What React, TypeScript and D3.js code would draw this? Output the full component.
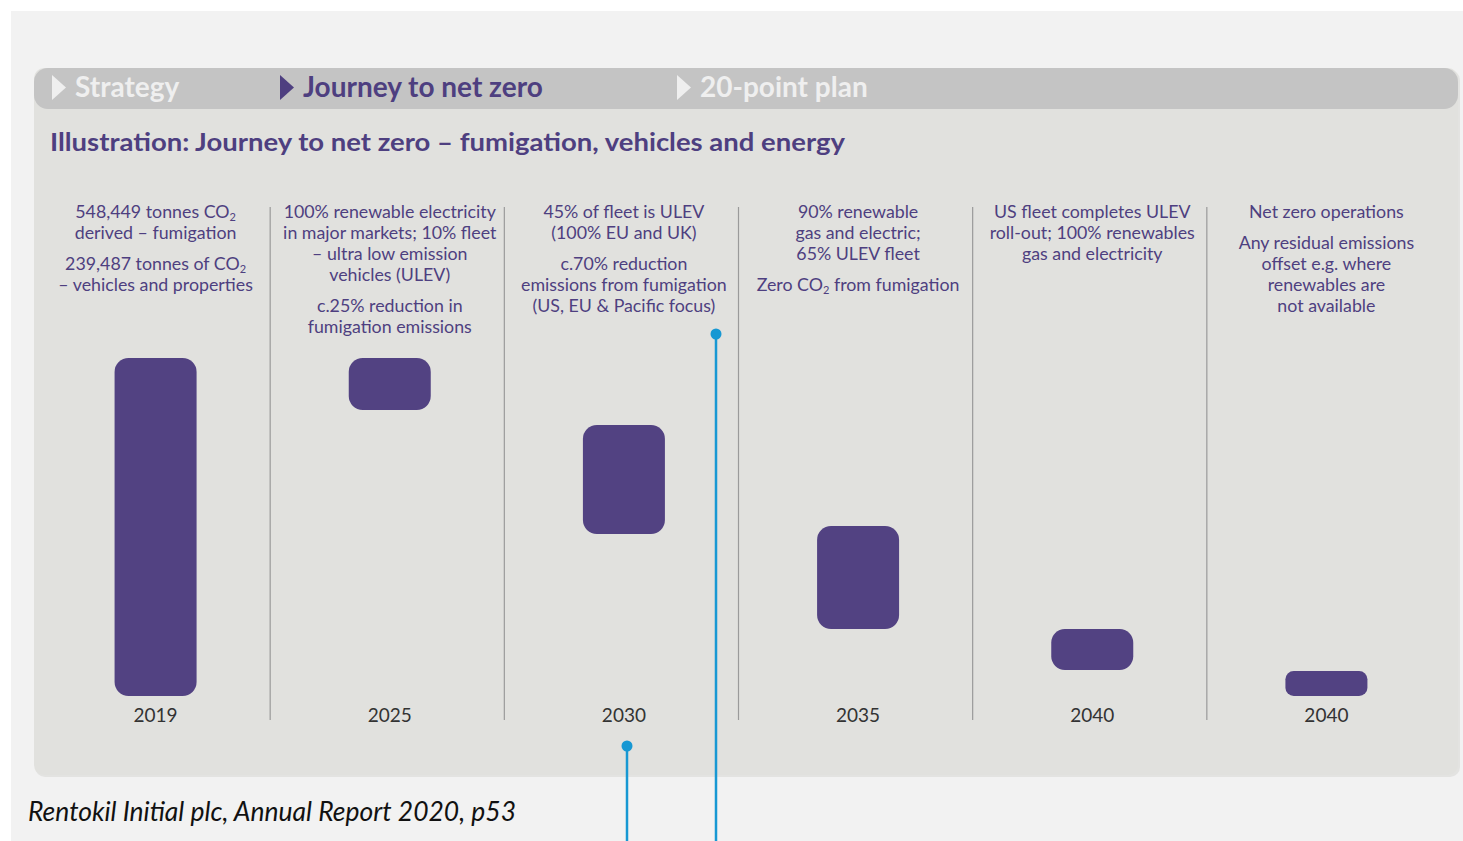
import React from "react";
import * as d3 from "d3";

const W = 1463;
const H = 841;

const navItems = ["Strategy", "Journey to net zero", "20-point plan"];
const navActive = [false, true, false];
const title = "Illustration: Journey to net zero – fumigation, vehicles and energy";

const years = ["2019", "2025", "2030", "2035", "2040", "2040"];
// emissions index (2019 = 100): each milestone is a floating bar from low to high
const barLow = [0, 84.6, 47.9, 19.8, 7.7, 0];
const barHigh = [100, 100, 80.2, 50.3, 19.8, 7.4];

// paragraphs per column; "₂" marks a subscript 2
const notes: string[][][] = [
  [["548,449 tonnes CO₂", "derived – fumigation"], ["239,487 tonnes of CO₂", "– vehicles and properties"]],
  [["100% renewable electricity", "in major markets; 10% fleet", "– ultra low emission", "vehicles (ULEV)"], ["c.25% reduction in", "fumigation emissions"]],
  [["45% of fleet is ULEV", "(100% EU and UK)"], ["c.70% reduction", "emissions from fumigation", "(US, EU & Pacific focus)"]],
  [["90% renewable", "gas and electric;", "65% ULEV fleet"], ["Zero CO₂ from fumigation"]],
  [["US fleet completes ULEV", "roll-out; 100% renewables", "gas and electricity"]],
  [["Net zero operations"], ["Any residual emissions", "offset e.g. where", "renewables are", "not available"]],
];

const caption = "Rentokil Initial plc, Annual Report 2020, p53";

const PURPLE = "#4e3f80";
const BAR = "#524282";
const BLUE = "#1798d3";
const FONT = "Lato, 'Open Sans', sans-serif";

function Line({ s, x, y }: { s: string; x: number; y: number }) {
  const parts = s.split("₂");
  const nodes: React.ReactNode[] = [];
  parts.forEach((p, i) => {
    nodes.push(
      <tspan key={`t${i}`} dy={i > 0 ? -3 : 0}>
        {p}
      </tspan>
    );
    if (i < parts.length - 1) {
      nodes.push(
        <tspan key={`s${i}`} fontSize={11} dy={3}>
          2
        </tspan>
      );
    }
  });
  return (
    <text x={x} y={y} textAnchor="middle" fontFamily={FONT} fontSize={17.8} fill={PURPLE}>
      {nodes}
    </text>
  );
}

export default function App() {
  const x = d3.scaleBand<number>().domain(d3.range(years.length)).range([36, 1441]).paddingInner(0).paddingOuter(0);
  const y = d3.scaleLinear().domain([0, 100]).range([696, 358]);
  const barW = 82;
  const lineH = 21;
  const paraGap = 10;
  const textTop = 218;
  const shift = 2.5;
  const cxOf = (i: number) => x(i)! + x.bandwidth() / 2 + shift;

  const navX = [52, 280, 677];

  return (
    <svg width={W} height={H} style={{ position: "absolute", left: 0, top: 0, display: "block" }}>
      <rect x={0} y={0} width={W} height={H} fill="#ffffff" />
      <rect x={11} y={11} width={W - 11} height={H - 11} fill="#f2f2f2" />
      {/* panel */}
      <rect x={35} y={70} width={1425} height={707} rx={10} fill="#d9d9d6" opacity={0.6} />
      <rect x={34} y={68} width={1424} height={707} rx={10} fill="#e1e1de" />
      {/* nav bar */}
      <rect x={34} y={68} width={1424} height={41} rx={14} fill="#c4c4c4" />
      {navItems.map((t, i) => {
        const c = navActive[i] ? PURPLE : "#efefef";
        const tx = navX[i];
        return (
          <g key={i}>
            <path d={`M${tx},${75} L${tx + 14},${87.5} L${tx},${100} Z`} fill={c} />
            <text x={tx + 23} y={97} fontFamily={FONT} fontWeight={700} fontSize={28} fill={c}>
              {t}
            </text>
          </g>
        );
      })}
      <text x={50} y={151} fontFamily={FONT} fontWeight={700} fontSize={25} fill={PURPLE} textLength={795} lengthAdjust="spacingAndGlyphs">
        {title}
      </text>

      {/* dividers */}
      {d3.range(1, years.length).map((i) => (
        <line key={i} x1={x(i)!} x2={x(i)!} y1={207} y2={720} stroke="#9a9a9a" strokeWidth={1.2} />
      ))}

      {/* notes */}
      {notes.map((paras, ci) => {
        const cx = cxOf(ci);
        let yy = textTop;
        const out: React.ReactNode[] = [];
        paras.forEach((p, pi) => {
          if (pi > 0) yy += paraGap;
          p.forEach((s, li) => {
            out.push(<Line key={`${pi}-${li}`} s={s} x={cx} y={yy} />);
            yy += lineH;
          });
        });
        return <g key={ci}>{out}</g>;
      })}

      {/* bars */}
      {years.map((yr, i) => {
        const cx = cxOf(i);
        const top = y(barHigh[i]);
        const h = y(barLow[i]) - top;
        return (
          <g key={i}>
            <rect x={cx - barW / 2} y={top} width={barW} height={h} rx={Math.min(14, h / 3)} fill={BAR} />
            <text x={cx} y={722} textAnchor="middle" fontFamily={FONT} fontSize={19} fill="#333">
              {yr}
            </text>
          </g>
        );
      })}

      {/* leader lines */}
      <line x1={716} x2={716} y1={334} y2={H} stroke={BLUE} strokeWidth={2.5} />
      <circle cx={716} cy={334} r={5.5} fill={BLUE} />
      <line x1={627} x2={627} y1={746} y2={H} stroke={BLUE} strokeWidth={2.5} />
      <circle cx={627} cy={746} r={5.5} fill={BLUE} />

      <text x={28} y={821} fontFamily={FONT} fontStyle="italic" fontSize={27} fill="#111" textLength={488} lengthAdjust="spacingAndGlyphs">
        {caption}
      </text>
    </svg>
  );
}
